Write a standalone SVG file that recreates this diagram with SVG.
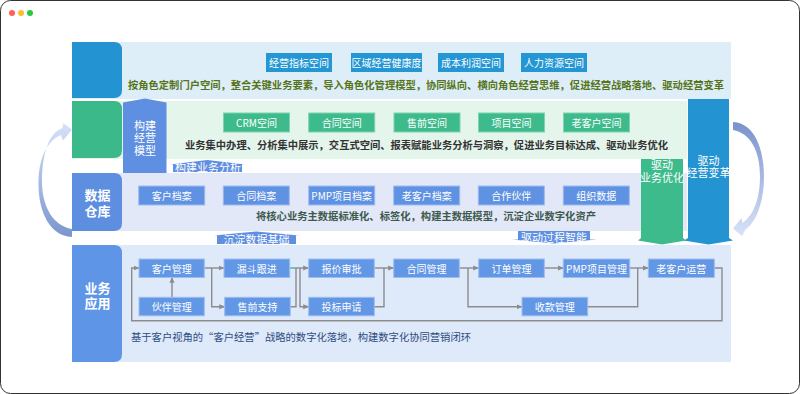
<svg xmlns="http://www.w3.org/2000/svg" width="800" height="394" viewBox="0 0 800 394">
<defs>
<style>
text{font-family:"Noto Sans CJK SC","Noto Sans",sans-serif;}
.bt{fill:#fff;font-size:10px;text-anchor:middle;dominant-baseline:central;}
.lbl{fill:#fff;font-size:13px;font-weight:bold;text-anchor:middle;dominant-baseline:central;}
.ct{fill:#fff;font-size:11px;text-anchor:middle;dominant-baseline:central;}
.b1{fill:#2396D3;}
.b2{fill:#3DBB8C;stroke:#7ED3B0;stroke-width:1;}
.b3{fill:#6092E3;stroke:#9DBBF0;stroke-width:1;}
.b4{fill:#6297E6;stroke:#9DBDF0;stroke-width:1;}
.line{font-size:10.3px;dominant-baseline:central;}
.cn{fill:none;stroke:#8C8C8C;stroke-width:1.4;}
.ar{marker-end:url(#ah);}
</style>
<marker id="ah" markerUnits="userSpaceOnUse" markerWidth="6" markerHeight="6" refX="5.5" refY="3" orient="auto">
<path d="M0,0.5 L6,3 L0,5.5 z" fill="#8C8C8C"/>
</marker>
<linearGradient id="gl" x1="0" y1="0" x2="0" y2="1">
<stop offset="0" stop-color="#D6E2F8"/>
<stop offset="1" stop-color="#7A95CF"/>
</linearGradient>
<linearGradient id="gr" x1="0" y1="0" x2="0" y2="1">
<stop offset="0" stop-color="#7A92CC"/>
<stop offset="1" stop-color="#D8E3F8"/>
</linearGradient>
</defs>
<rect x="0.5" y="0.5" width="799" height="393" rx="10" fill="#fff" stroke="#333" stroke-width="1"/>
<circle cx="12" cy="13" r="3" fill="#FF5F57"/>
<circle cx="21" cy="13" r="3" fill="#FEBC2E"/>
<circle cx="30" cy="13" r="3" fill="#28C840"/>

<g id="layer1">
<rect x="72" y="42" width="659" height="57" fill="#DDEEF8"/>
<path d="M72,42 H114 Q122,42 122,50 V90 Q122,98 114,98 H72 Z" fill="#2393D1"/>
<g id="l1-boxes">
<rect class="b1" x="266" y="53" width="66" height="19"/><text class="bt" x="299" y="62.5">经营指标空间</text>
<rect class="b1" x="351" y="53" width="71" height="19"/><text class="bt" x="386.5" y="62.5">区域经营健康度</text>
<rect class="b1" x="438" y="53" width="66" height="19"/><text class="bt" x="471" y="62.5">成本利润空间</text>
<rect class="b1" x="521" y="53" width="66" height="19"/><text class="bt" x="554" y="62.5">人力资源空间</text>
</g>
<text class="line" x="128" y="84.3" textLength="596" lengthAdjust="spacingAndGlyphs" fill="#57741B" font-weight="bold">按角色定制门户空间，整合关键业务要素，导入角色化管理模型，协同纵向、横向角色经营思维，促进经营战略落地、驱动经营变革</text>
</g>

<g id="layer2">
<rect x="72" y="101" width="615" height="58" fill="#E4F5EC"/>
<path d="M72,101 H114 Q122,101 122,109 V150 Q122,158 114,158 H72 Z" fill="#3BB98A"/>
<g id="l2-boxes">
<rect class="b2" x="223.5" y="113" width="66" height="19"/><text class="bt" x="256.5" y="122.5">CRM空间</text>
<rect class="b2" x="308.7" y="113" width="66" height="19"/><text class="bt" x="341.7" y="122.5">合同空间</text>
<rect class="b2" x="394" y="113" width="66" height="19"/><text class="bt" x="427" y="122.5">售前空间</text>
<rect class="b2" x="478.5" y="113" width="66" height="19"/><text class="bt" x="511.5" y="122.5">项目空间</text>
<rect class="b2" x="563.5" y="113" width="66" height="19"/><text class="bt" x="596.5" y="122.5">老客户空间</text>
</g>
<text class="line" x="185" y="144.3" textLength="483" lengthAdjust="spacingAndGlyphs" fill="#333" font-weight="bold">业务集中办理、分析集中展示，交互式空间、报表赋能业务分析与洞察，促进业务目标达成、驱动业务优化</text>
</g>

<g id="layer3">
<rect x="72" y="173" width="615" height="58" fill="#E2E8F8"/>
<path d="M72,173 H114 Q122,173 122,181 V223 Q122,231 114,231 H72 Z" fill="#5E8EE0"/>
<text class="lbl"><tspan x="97.5" y="194">数据</tspan><tspan x="97.5" y="209.5">仓库</tspan></text>
<g id="l3-boxes">
<rect class="b3" x="138.7" y="186" width="66" height="19"/><text class="bt" x="171.7" y="195.5">客户档案</text>
<rect class="b3" x="223.3" y="186" width="66" height="19"/><text class="bt" x="256.3" y="195.5">合同档案</text>
<rect class="b3" x="308.7" y="186" width="66" height="19"/><text class="bt" x="341.7" y="195.5">PMP项目档案</text>
<rect class="b3" x="393.7" y="186" width="66" height="19"/><text class="bt" x="426.7" y="195.5">老客户档案</text>
<rect class="b3" x="478.3" y="186" width="66" height="19"/><text class="bt" x="511.3" y="195.5">合作伙伴</text>
<rect class="b3" x="563.3" y="186" width="66" height="19"/><text class="bt" x="596.3" y="195.5">组织数据</text>
</g>
<text class="line" x="256" y="215.7" textLength="340" lengthAdjust="spacingAndGlyphs" fill="#3E5A4E" font-weight="bold">将核心业务主数据标准化、标签化，构建主数据模型，沉淀企业数字化资产</text>
</g>

<g id="layer4">
<rect x="72" y="245" width="659" height="117" fill="#DEE9FA"/>
<path d="M72,245 H114 Q122,245 122,253 V354 Q122,362 114,362 H72 Z" fill="#5F95E6"/>
<text class="lbl"><tspan x="97.5" y="286.7">业务</tspan><tspan x="97.5" y="302">应用</tspan></text>
<text class="line" x="131" y="336.7" textLength="340" lengthAdjust="spacingAndGlyphs" fill="#2E4C80">基于客户视角的“客户经营”战略的数字化落地，构建数字化协同营销闭环</text>
</g>

<g id="connectors">
<path class="cn ar" d="M204.3,268 H224"/>
<path class="cn ar" d="M211.7,268 V306.7 H224.7"/>
<path class="cn ar" d="M172,297.3 V277.3"/>
<path class="cn ar" d="M296,268 H308.7"/>
<path d="M290,268 H296" stroke="#3DBB8C" stroke-width="1.4"/>
<path class="cn ar" d="M300,268 V306.7 H308.7"/>
<path class="cn" d="M290.3,306.7 H296 V268"/>
<path class="cn ar" d="M374.3,268 H393.7"/>
<path class="cn" d="M374.3,306.7 H384 V268"/>
<path class="cn ar" d="M459.3,268 H478.7"/>
<path class="cn ar" d="M468,268 V306.7 H522"/>
<path class="cn ar" d="M544.3,268 H563.3"/>
<path class="cn ar" d="M629.7,268 H648.3"/>
<path class="cn" d="M587.7,306.7 H637.7 V268"/>
<path class="cn ar" d="M714.3,268 H722 V320.7 H131.7 V268 H139"/>
</g>

<g id="n-kehu"><rect class="b4" x="139" y="259" width="65.3" height="18.5"/><text class="bt" x="171.7" y="268.2">客户管理</text></g>
<g id="n-loudou"><rect class="b4" x="224" y="259" width="65.7" height="18.5"/><text class="bt" x="256.8" y="268.2">漏斗跟进</text></g>
<g id="n-baojia"><rect class="b4" x="308.7" y="259" width="65.6" height="18.5"/><text class="bt" x="341.5" y="268.2">报价审批</text></g>
<g id="n-hetong"><rect class="b4" x="393.7" y="259" width="65.6" height="18.5"/><text class="bt" x="426.5" y="268.2">合同管理</text></g>
<g id="n-dingdan"><rect class="b4" x="478.7" y="259" width="65.6" height="18.5"/><text class="bt" x="511.5" y="268.2">订单管理</text></g>
<g id="n-pmp"><rect class="b4" x="563.3" y="259" width="66.4" height="18.5"/><text class="bt" x="596.5" y="268.2">PMP项目管理</text></g>
<g id="n-laokehu"><rect class="b4" x="648.3" y="259" width="66" height="18.5"/><text class="bt" x="681.3" y="268.2">老客户运营</text></g>
<g id="n-huoban"><rect class="b4" x="139" y="297.3" width="65.3" height="18.5"/><text class="bt" x="171.7" y="306.5">伙伴管理</text></g>
<g id="n-shouqian"><rect class="b4" x="224.7" y="297.3" width="65.6" height="18.5"/><text class="bt" x="257.5" y="306.5">售前支持</text></g>
<g id="n-toubiao"><rect class="b4" x="308.7" y="297.3" width="65.6" height="18.5"/><text class="bt" x="341.5" y="306.5">投标申请</text></g>
<g id="n-shoukuan"><rect class="b4" x="522" y="297.3" width="65.7" height="18.5"/><text class="bt" x="554.8" y="306.5">收款管理</text></g>

<g id="arrow-model">
<polygon points="123,173 123,102.5 145,98.5 166.5,102.5 166.5,173" fill="#5F8FE1"/>
<text class="ct"><tspan x="145" y="124.7">构建</tspan><tspan x="145" y="137.3">经营</tspan><tspan x="145" y="150">模型</tspan></text>
</g>
<g id="arrow-analysis">
<polygon points="173,172 173,164.5 170,164.5 207.5,160 245,164.5 242,164.5 242,172" fill="#5F8FE1"/>
<text class="ct" x="208" y="167" font-size="10.5">构建业务分析</text>
</g>
<g id="arrow-data">
<polygon points="217,244 217,235.5 214,235.5 256.5,231.5 299,235.5 296,235.5 296,244" fill="#5F8FE1"/>
<text class="ct" x="256.5" y="238.5">沉淀数据基础</text>
</g>
<g id="arrow-process">
<polygon points="518,231 590,231 590,239.5 597,239.5 554,243.5 512,239.5 518,239.5" fill="#5F8FE1"/>
<text class="ct" x="554" y="237">驱动过程智能</text>
</g>
<g id="arrow-biz">
<polygon points="641,159 683,159 683,238 686,240.5 662,244.5 638,240.5 641,238" fill="#3DBB8C"/>
<text class="ct" font-size="11.5"><tspan x="662" y="164">驱动</tspan><tspan x="662" y="176.5">业务优化</tspan></text>
</g>
<g id="arrow-change">
<polygon points="688,99 729,99 729,238 733,240.5 708.5,244.5 684,240.5 688,238" fill="#2393D1"/>
<text class="ct" font-size="11.5"><tspan x="708.5" y="160">驱动</tspan><tspan x="708.5" y="171.7">经营变革</tspan></text>
</g>

<g id="curve-left">
<path d="M72,129.5 L63,123 L62.5,128 C48,133 42,156 42,182 C42,206 53,226 72,229 L72,237 C50,236 38.5,212 38.5,184 C38.5,160 46,141 61,135 L63,140.5 Z" fill="url(#gl)"/>
</g>
<g id="curve-right">
<path d="M733,228.5 L741.5,218 L742.5,223 C755,214 760,196 760,176 C760,150 750,133 733,130 L733,122 C755,123 764,150 764,177 C764,200 757,222 745.5,229.5 L742,236 Z" fill="url(#gr)"/>
</g>
</svg>
